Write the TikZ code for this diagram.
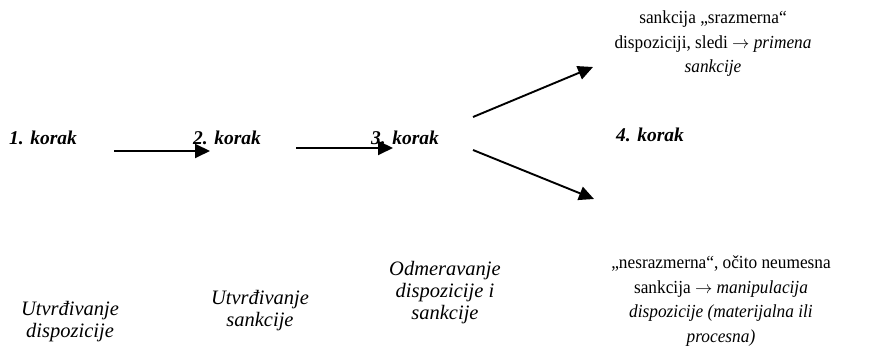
\documentclass[tikz,border=0pt]{standalone}
\usepackage{fontspec}
\setmainfont{Liberation Serif}
\newfontfamily\tallserif[FakeStretch=0.94]{Liberation Serif}
\usetikzlibrary{arrows.meta}
\begin{document}
\begin{tikzpicture}[x=1pt,y=-1pt,
  korak/.style={font=\fontsize{19.5}{23}\selectfont\bfseries\itshape, inner sep=0pt},
  lbl/.style={font=\fontsize{20.5}{22}\selectfont\itshape, align=center, inner sep=0pt},
  rtxt/.style={font=\tallserif\fontsize{18.4}{24.5}\selectfont, align=center, inner sep=0pt},
  arr/.style={line width=1.9pt, -{Triangle[length=15pt,width=14pt]}}]
\useasboundingbox (0,0) rectangle (887,347);
% step headings
\node[korak] (k1) at (43,138) {1. korak};
\node[korak] (k2) at (227,138) {2. korak};
\node[korak] (k3) at (405,138) {3. korak};
\node[korak] (k4) at (650,135) {4. korak};
% descriptions
\node[lbl] (d1) at (70,322) {Utvrđivanje\\dispozicije};
\node[lbl] (d2) at (260,311) {Utvrđivanje\\sankcije};
\node[lbl] (d3) at (445,293) {Odmeravanje\\dispozicije i\\sankcije};
\node[rtxt] (r1) at (713,44) {sankcija „srazmerna“\\dispoziciji, sledi $\rightarrow$ \textit{primena}\\\textit{sankcije}};
\node[rtxt] (r2) at (721,301) {„nesrazmerna“, očito neumesna\\sankcija $\rightarrow$ \textit{manipulacija}\\\textit{dispozicije (materijalna ili}\\\textit{procesna)}};
% connector ends
\coordinate (a1s) at (114,151);
\coordinate (a1e) at (210,151);
\coordinate (a2s) at (296,148);
\coordinate (a2e) at (393,148);
\coordinate (a3s) at (473,117);
\coordinate (a3e) at (593,67);
\coordinate (a4s) at (473,150);
\coordinate (a4e) at (594,199);
\draw[arr] (a1s) -- (a1e);
\draw[arr] (a2s) -- (a2e);
\draw[arr] (a3s) -- (a3e);
\draw[arr] (a4s) -- (a4e);
\end{tikzpicture}
\end{document}
